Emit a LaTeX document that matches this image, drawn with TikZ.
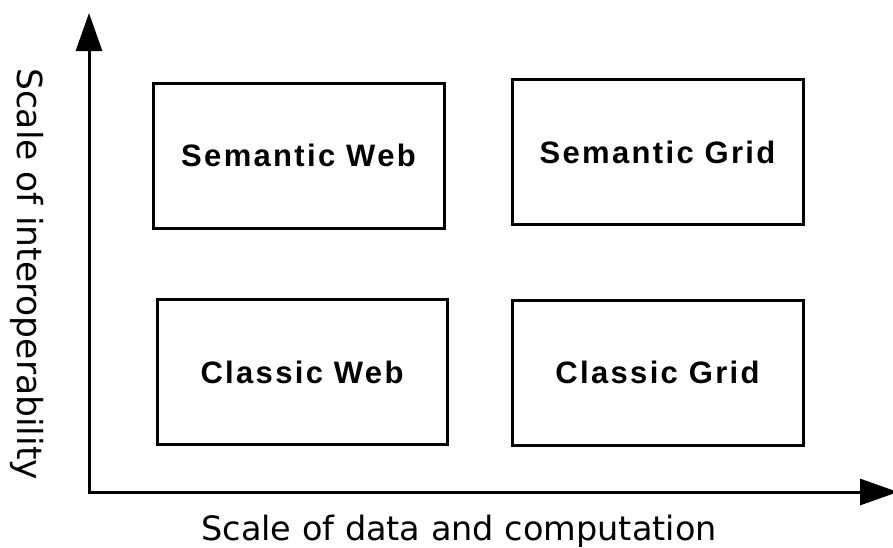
\documentclass[tikz,border=0pt]{standalone}
\usepackage{fontspec}
\setmainfont{DejaVu Sans}
\newfontfamily\boxfont[LetterSpace=7.5]{Liberation Sans}
\usetikzlibrary{arrows.meta}
\tikzset{
  axisline/.style={line width=3pt, miter limit=10,
    {Triangle[length=38pt,width=26pt]}-{Triangle[length=38pt,width=26pt]}},
  quad/.style={draw, line width=3pt, inner sep=0pt, minimum width=291pt,
    minimum height=145pt, font=\boxfont\bfseries\fontsize{31}{36}\selectfont},
  axislabel/.style={inner sep=0pt, anchor=base, font=\fontsize{33.5}{40}\selectfont}
}
\begin{document}
\begin{tikzpicture}[x=1pt,y=-1pt]
\useasboundingbox (0,0) rectangle (893,547);
\coordinate (ytip) at (89,13);
\coordinate (origin) at (89,492);
\coordinate (xtip) at (898,492);
\draw[axisline] (ytip) -- (origin) -- (xtip);
\node[quad] (sw) at (298.5,155.5) {Semantic Web};
\node[quad] (sg) at (657.5,152) {Semantic Grid};
\node[quad, minimum width=290pt] (cw) at (302,372) {Classic Web};
\node[quad] (cg) at (657.5,372.5) {Classic Grid};
\node[axislabel] (xl) at (459,540) {Scale of data and computation};
\node[axislabel, rotate=-90, font=\fontsize{34.5}{40}\selectfont] (yl) at (17,274) {Scale of interoperability};
\end{tikzpicture}
\end{document}
